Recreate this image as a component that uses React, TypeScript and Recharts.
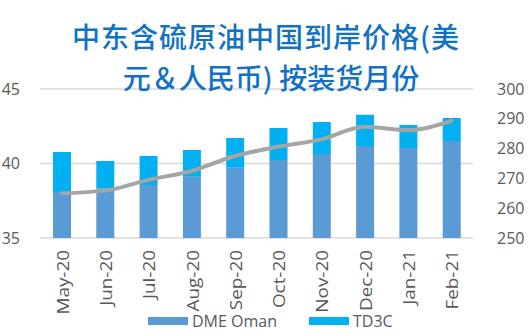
import { ComposedChart, Bar, Line, XAxis, YAxis, CartesianGrid } from 'recharts';

const months = ['May-20', 'Jun-20', 'Jul-20', 'Aug-20', 'Sep-20', 'Oct-20', 'Nov-20', 'Dec-20', 'Jan-21', 'Feb-21'];
const dmeOman = [38.09, 38.33, 38.56, 39.11, 39.72, 40.23, 40.64, 41.17, 41.04, 41.51];
const td3c = [2.68, 1.84, 1.94, 1.8, 1.99, 2.15, 2.15, 2.11, 1.54, 1.54];
const rmbPrice = [265.0, 265.9, 269.5, 272.5, 277.5, 280.6, 283.1, 287.3, 286.2, 289.3];
const leftTicks = [35, 40, 45];
const rightTicks = [250, 260, 270, 280, 290, 300];

const rows = months.map((m, i) => ({ month: m, dme: dmeOman[i], td3c: td3c[i], rmb: rmbPrice[i] }));

const FONT = '"Open Sans", sans-serif';
const TICK_COLOR = '#595959';

// month labels run bottom-to-top, slightly stretched along the text like the source
function MonthTick({ x, payload }: { x?: number; y?: number; payload?: { value: string } }) {
  return (
    <text
      transform={`translate(${x},250) rotate(-90) scale(1.18,1)`}
      textAnchor="end"
      dy={7}
      fill={TICK_COLOR}
      fontSize={16}
      fontFamily={FONT}
    >
      {payload?.value}
    </text>
  );
}

export default function App() {
  return (
    <div style={{ position: 'absolute', left: 0, top: 0, width: 532, height: 336, background: '#fff', fontFamily: FONT }}>
      <ComposedChart width={532} height={336} data={rows} margin={{ top: 89, right: 0, left: 0, bottom: 38 }}>
        <CartesianGrid yAxisId="left" vertical={false} stroke="#d9d9d9" strokeWidth={1.5} />
        <XAxis dataKey="month" axisLine={false} tickLine={false} height={60} tick={<MonthTick />} interval={0} />
        <YAxis
          yAxisId="left"
          domain={[35, 45]}
          ticks={leftTicks}
          allowDataOverflow
          width={40}
          axisLine={false}
          tickLine={false}
          tickSize={0}
          tickMargin={20}
          tick={{ fill: TICK_COLOR, fontSize: 16, fontFamily: FONT }}
        />
        <YAxis
          yAxisId="right"
          orientation="right"
          domain={[250, 300]}
          ticks={rightTicks}
          allowDataOverflow
          width={59}
          axisLine={false}
          tickLine={false}
          tickSize={0}
          tickMargin={24}
          tick={{ fill: TICK_COLOR, fontSize: 16, fontFamily: FONT }}
        />
        <Bar yAxisId="left" dataKey="dme" stackId="a" fill="#5b9bd5" barSize={18} isAnimationActive={false} />
        <Bar yAxisId="left" dataKey="td3c" stackId="a" fill="#00b0f0" barSize={18} isAnimationActive={false} />
        <Line
          yAxisId="right"
          dataKey="rmb"
          type="monotone"
          stroke="#a5a5a5"
          strokeWidth={4}
          strokeLinecap="round"
          dot={false}
          isAnimationActive={false}
        />
      </ComposedChart>

      {/* Title */}
      <div
        style={{
          position: 'absolute',
          left: 0,
          top: 16,
          width: 532,
          textAlign: 'center',
          color: '#1172c4',
          fontFamily: '"Noto Sans CJK SC", sans-serif',
          fontWeight: 500,
          fontSize: 28,
          lineHeight: '41px',
        }}
      >
        <div style={{ letterSpacing: 1 }}>中东含硫原油中国到岸价格(美</div>
        <div style={{ paddingLeft: 10 }}>元＆人民币) 按装货月份</div>
      </div>

      {/* Legend */}
      <div style={{ position: 'absolute', left: 148, top: 309, display: 'flex', alignItems: 'center', fontSize: 16, color: TICK_COLOR, lineHeight: '24px' }}>
        <span style={{ width: 40, height: 8, background: '#5b9bd5', marginRight: 4 }} />
        <span style={{ marginRight: 32 }}>DME Oman</span>
        <span style={{ width: 40, height: 8, background: '#00b0f0', marginRight: 4 }} />
        <span>TD3C</span>
      </div>
    </div>
  );
}
